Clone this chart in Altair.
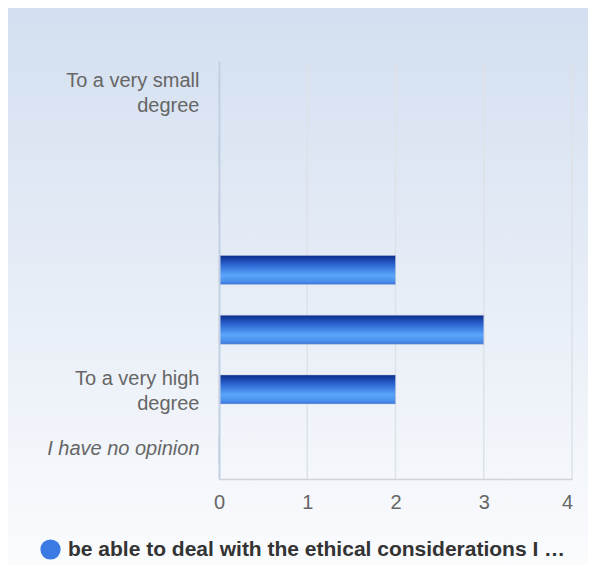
import altair as alt
import pandas as pd

categories = ["To a very small degree", "2", "3", "4", "5", "To a very high degree", "I have no opinion"]
counts = [0, 0, 0, 2, 3, 2, 0]
series_name = "be able to deal with the ethical considerations I …"
x_ticks = [0, 1, 2, 3, 4]

df = pd.DataFrame({"category": categories, "count": counts, "series": [series_name] * len(categories)})
grid_df = pd.DataFrame({"count": x_ticks[1:]})

W, H = 353, 418
PAD = {"left": 211, "top": 53, "right": 16, "bottom": 86}

bg_grad = alt.Gradient(
    gradient="linear", x1=0, y1=0, x2=0, y2=1,
    stops=[alt.GradientStop(offset=0, color="#d3dff0"),
           alt.GradientStop(offset=1, color="#fafbfd")],
)
bar_grad = alt.Gradient(
    gradient="linear", x1=0, y1=0, x2=0, y2=1,
    stops=[alt.GradientStop(offset=0, color="#0b2c8a"),
           alt.GradientStop(offset=0.3, color="#2a62d0"),
           alt.GradientStop(offset=0.68, color="#5aa6fb"),
           alt.GradientStop(offset=0.9, color="#4a8eec"),
           alt.GradientStop(offset=1, color="#3570d4")],
)

xscale = alt.Scale(domain=[0, 4], nice=False)
yscale = alt.Scale(domain=categories)

label_expr = (
    "datum.label == 'To a very small degree' ? ['To a very small', 'degree'] : "
    "datum.label == 'To a very high degree' ? ['To a very high', 'degree'] : "
    "(indexof(['2','3','4','5'], datum.label) >= 0 ? '' : datum.label)"
)
two_line = "datum.value == 'To a very small degree' || datum.value == 'To a very high degree'"

x_axis = alt.Axis(values=x_ticks, title=None, grid=False, ticks=False,
                  labelFontSize=20, labelColor="#666666", labelPadding=13,
                  labelFlush=False,
                  labelOffset={"condition": {"test": "datum.value == 4", "value": -5}, "value": 0},
                  domainColor="#d0d3d8", domainWidth=1.5, zindex=2,
                  labelFont="Liberation Sans")
y_axis = alt.Axis(title=None, ticks=False, labelExpr=label_expr,
                  labelFontSize=20, labelColor="#666666", labelPadding=20,
                  labelLineHeight=25, labelLimit=300,
                  labelOffset={"condition": {"test": two_line, "value": -10}, "value": 0},
                  labelFontStyle={"condition": {"test": "datum.value == 'I have no opinion'", "value": "italic"}, "value": "normal"},
                  domainColor="#c3cfe2", domainWidth=2, zindex=2,
                  labelFont="Liberation Sans")

X = alt.X("count:Q", scale=xscale, axis=x_axis)
Y = alt.Y("category:N", scale=yscale, sort=categories, axis=y_axis)

background = alt.Chart(pd.DataFrame({"a": [0]})).mark_rect(fill=bg_grad, clip=False).encode(
    x=alt.value(-PAD["left"]), x2=alt.value(W + PAD["right"]),
    y=alt.value(-PAD["top"]), y2=alt.value(H + PAD["bottom"]),
)

grid = alt.Chart(grid_df).mark_rule(color="#dde1e8", strokeWidth=1.5).encode(x=X)

bars = alt.Chart(df).mark_bar(fill=bar_grad, size=29, stroke="#b8c2d6", strokeWidth=0.5).encode(x=X, y=Y)

legend_layer = alt.Chart(df).mark_point(opacity=0, filled=True, shape="circle").encode(
    x=X, y=Y,
    color=alt.Color("series:N", scale=alt.Scale(range=["#3b7ae2"]),
                    legend=alt.Legend(title=None, orient="none", legendX=-179, legendY=478,
                                      symbolType="circle", symbolSize=410, symbolOpacity=1,
                                      symbolStrokeWidth=0, labelFontSize=21, labelFontWeight="bold",
                                      labelColor="#333333", labelLimit=600, labelFont="Liberation Sans",
                                      labelOffset=7)),
)

chart = alt.layer(background, grid, bars, legend_layer).properties(
    width=W, height=H, autosize="none", padding=PAD,
    background="white",
).configure_view(stroke="#c8ccd3", strokeWidth=1.5)

chart.save("out.html", embed_options={"renderer": "svg", "actions": False})
